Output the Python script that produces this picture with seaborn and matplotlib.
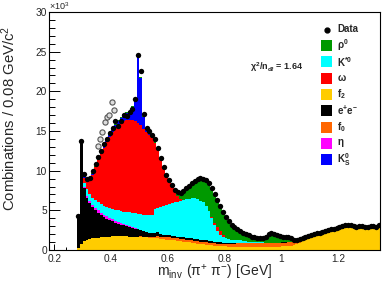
import numpy as np
import pandas as pd
import matplotlib
matplotlib.use("Agg")
import matplotlib.pyplot as plt
import seaborn as sns
from matplotlib.patches import Rectangle
from matplotlib.lines import Line2D
from matplotlib.ticker import MultipleLocator

# ---------------- data (y in units of 10^3 combinations) ----------------
bin_lo, bin_hi, bin_w = 0.28, 1.35, 0.01

f2 = [0.3, 0.8, 1.1, 1.25, 1.35, 1.45, 1.5, 1.55, 1.6, 1.65,
      1.7, 1.7, 1.75, 1.75, 1.75, 1.75, 1.75, 1.75, 1.7, 1.7,
      1.7, 1.65, 1.65, 1.6, 1.6, 1.55, 1.5, 1.5, 1.45, 1.4,
      1.35, 1.3, 1.3, 1.25, 1.2, 1.15, 1.1, 1.05, 1.0, 0.95,
      0.9, 0.85, 0.8, 0.75, 0.7, 0.65, 0.6, 0.6, 0.55, 0.5,
      0.5, 0.45, 0.45, 0.4, 0.4, 0.4, 0.4, 0.4, 0.4, 0.4,
      0.4, 0.4, 0.4, 0.4, 0.4, 0.4, 0.4, 0.4, 0.4, 0.4,
      0.4, 0.4, 0.45, 0.45, 0.5, 0.55, 0.6, 0.7, 0.9, 1.1,
      1.3, 1.5, 1.6, 1.7, 1.8, 1.9, 2.0, 2.1, 2.2, 2.3,
      2.4, 2.5, 2.6, 2.7, 2.8, 2.85, 2.85, 2.8, 2.75, 2.75,
      2.8, 2.8, 2.75, 2.75, 2.8, 2.8, 2.8]

f0 = ([0.0] * 22 + [0.1] * 5 + [0.2, 0.35] + [0.3] * 22 + [0.35] * 5 +
      [0.45] * 21 + [0.4, 0.3, 0.2, 0.1, 0.05] + [0.0] * 25)

ee = ([4.0, 12.8, 6.7, 5.35, 4.55, 3.95, 3.5, 3.15, 2.8, 2.5,
       2.25, 2.05, 1.85, 1.7, 1.55, 1.45, 1.35, 1.25, 1.2, 1.1,
       1.0, 0.95, 0.75, 0.7, 0.6, 0.55, 0.55, 0.5, 0.45, 0.35,
       0.3, 0.3, 0.25, 0.25, 0.25, 0.25, 0.25, 0.25, 0.25, 0.25,
       0.25, 0.25, 0.25, 0.25, 0.25, 0.25, 0.25, 0.2, 0.2, 0.2,
       0.15, 0.1, 0.1, 0.1, 0.1, 0.1] + [0.05] * 51)

eta = ([0.0, 0.05, 0.2, 0.25] + [0.3] * 7 +
       [0.28, 0.25, 0.22, 0.2, 0.17, 0.15, 0.12, 0.1, 0.08, 0.05, 0.03, 0.02] +
       [0.0] * 84)

kstar = ([0.0, 0.1, 0.5, 0.85, 0.9, 0.9, 1.0, 1.0, 1.1, 1.15,
          1.2, 1.27, 1.35, 1.43, 1.5, 1.53, 1.6, 1.68, 1.75, 1.82,
          1.9, 1.97, 1.98, 2.05, 2.1, 2.15, 2.25, 3.0, 3.05, 3.35,
          3.55, 3.75, 3.9, 4.1, 4.25, 4.4, 4.55, 4.7, 4.85, 4.95,
          5.05, 5.1, 5.05, 4.9, 4.75, 4.4, 3.75, 2.9, 2.05, 1.4,
          0.95, 0.7, 0.55, 0.5, 0.45, 0.4, 0.35, 0.3, 0.25, 0.2,
          0.15, 0.1, 0.1, 0.05, 0.05, 0.05] + [0.0] * 41)

omega = ([0.0, 0.0, 0.6, 0.9, 1.6, 2.9, 4.1, 5.3, 6.3, 7.3,
          8.15, 9.0, 9.7, 10.3, 10.8, 11.2, 11.45, 11.6, 11.65, 11.65,
          11.55, 11.4, 11.2, 10.85, 10.5, 10.15, 9.7, 8.3, 7.3, 6.0,
          4.7, 3.65, 2.75, 2.0, 1.3, 0.7, 0.2, 0.0, 0.0, 0.0] +
         [0.0] * 7 + [0.2, 0.3, 0.5, 0.5, 0.3, 0.1] + [0.0] * 54)

ks = ([0.0, 0.0, 0.05, 0.05, 0.05, 0.05, 0.1, 0.1, 0.1, 0.15,
       0.15, 0.2, 0.2, 0.3, 0.4, 0.5, 0.7, 0.9, 1.0, 1.6,
       2.8, 8.4, 6.0, 1.5, 0.3, 0.1] + [0.0] * 81)

rho = ([0.0, 0.0] + [0.15] * 23 + [0.2] * 7 +
       [0.25, 0.3, 0.3, 0.4, 0.6, 0.9,
        1.3, 1.65, 1.9, 2.2, 2.5, 2.8, 2.9, 3.1, 3.4, 3.5,
        3.6, 3.3, 3.0, 2.8, 2.45, 2.15, 1.8, 1.55, 1.25, 1.1,
        0.95, 0.85, 0.75, 0.65, 0.55, 0.55, 0.5, 0.5, 0.6, 0.9,
        1.0, 1.0, 0.9, 0.8, 0.7, 0.6, 0.5, 0.4, 0.2, 0.1,
        0.1, 0.1, 0.15, 0.15] + [0.15] * 25)

data = [4.3, 13.7, 9.6, 9.0, 9.1, 9.9, 10.9, 11.7, 12.5, 13.3,
        14.0, 14.8, 15.4, 16.3, 15.6, 16.3, 17.0, 16.9, 17.4, 17.8,
        19.0, 24.6, 22.6, 17.2, 15.4, 15.0, 14.5, 14.0, 12.9, 11.6,
        10.4, 9.5, 8.8, 8.2, 7.6, 7.3, 7.2, 7.4, 7.8, 8.1,
        8.4, 8.7, 9.0, 9.1, 9.0, 8.8, 8.4, 7.8, 7.1, 6.3,
        5.5, 4.8, 4.1, 3.6, 3.2, 2.9, 2.6, 2.4, 2.2, 2.0,
        1.9, 1.7, 1.6, 1.55, 1.5, 1.5, 1.6, 2.0, 2.1, 2.0,
        1.9, 1.8, 1.7, 1.6, 1.6, 1.5, 1.3, 1.2, 1.4, 1.5,
        1.6, 1.8, 1.9, 2.0, 2.1, 2.2, 2.3, 2.4, 2.5, 2.6,
        2.7, 2.8, 2.9, 3.0, 3.1, 3.2, 3.1, 3.0, 2.9, 3.0,
        3.0, 2.95, 2.9, 3.0, 3.0, 2.95, 3.1]

hollow_x = [0.353, 0.361, 0.369, 0.377, 0.386, 0.394, 0.402, 0.410]
hollow_y = [13.1, 14.0, 14.9, 16.1, 16.8, 17.0, 18.6, 17.7]

names = ["rho", "kstar", "omega", "f2", "ee", "f0", "eta", "ks"]
labels = [r"$\mathregular{\rho^{0}}$", r"$\mathregular{K^{*0}}$", r"$\mathregular{\omega}$",
          r"$\mathregular{f_{2}}$", r"$\mathregular{e^{+}e^{-}}$", r"$\mathregular{f_{0}}$",
          r"$\mathregular{\eta}$", r"$\mathregular{K^{0}_{S}}$"]
colors = {"rho": "#009900", "kstar": "#00FFFF", "omega": "#FF0000", "f2": "#FFCC00",
          "ee": "#000000", "f0": "#FF6600", "eta": "#FF00FF", "ks": "#0000FF"}
series = {"rho": rho, "kstar": kstar, "omega": omega, "f2": f2, "ee": ee,
          "f0": f0, "eta": eta, "ks": ks}

# stacking order, top to bottom
stack_top_to_bottom = ["rho", "ks", "omega", "kstar", "eta", "ee", "f0", "f2"]

edges = [round(bin_lo + i * bin_w, 3) for i in range(int(round((bin_hi - bin_lo) / bin_w)) + 1)]
centers = [round((a + b) / 2, 4) for a, b in zip(edges[:-1], edges[1:])]

df = pd.concat([pd.DataFrame({"x": centers, "w": series[n], "comp": n}) for n in names],
               ignore_index=True)

# ---------------- figure ----------------
sns.set_theme(style="white")
plt.rcParams["font.family"] = ["Liberation Sans", "DejaVu Sans"]
plt.rcParams["mathtext.default"] = "regular"

W, H = 382, 283
fig = plt.figure(figsize=(W / 100, H / 100), dpi=100)
L, R, T, B = 49, 380, 12, 250
ax = fig.add_axes([L / W, 1 - B / H, (R - L) / W, (B - T) / H])

sns.histplot(data=df, x="x", weights="w", hue="comp", hue_order=stack_top_to_bottom,
             multiple="stack", bins=edges, element="step", fill=True, alpha=1,
             linewidth=0, palette=colors, legend=False, ax=ax)

sns.scatterplot(x=centers, y=data, color="black", s=15, linewidth=0, ax=ax, zorder=5)
sns.scatterplot(x=hollow_x, y=hollow_y, marker="o", facecolor="#dddddd",
                edgecolor="#555555", s=14, linewidth=0.8, ax=ax, zorder=5)

ax.set_xlim(0.181, 1.348)
ax.set_ylim(0, 30)
ax.xaxis.set_major_locator(MultipleLocator(0.2))
ax.xaxis.set_minor_locator(MultipleLocator(0.04))
ax.yaxis.set_major_locator(MultipleLocator(5))
ax.yaxis.set_minor_locator(MultipleLocator(1))
ax.xaxis.set_major_formatter(matplotlib.ticker.FuncFormatter(lambda v, p: f"{v:g}"))
ax.tick_params(axis="both", which="both", direction="in", color="black",
               labelsize=7.3, width=0.7)
ax.tick_params(axis="y", which="major", length=8.0, pad=1.5)
ax.tick_params(axis="y", which="minor", length=4.3)
ax.tick_params(axis="x", which="major", length=4.0, pad=3)
ax.tick_params(axis="x", which="minor", length=2.2)
ax.tick_params(left=True, bottom=True, top=False, right=False)
ax.tick_params(axis="both", which="minor", left=True, bottom=True)
for s in ax.spines.values():
    s.set_color("black")
    s.set_linewidth(0.8)

ax.set_ylabel("Combinations / 0.08 GeV/c$^{2}$", fontsize=10.7, loc="top")
ax.yaxis.set_label_coords(-(L - 18) / (R - L), 1 - (26 - T) / (B - T))
ax.set_xlabel(r"$\mathregular{m_{inv}\ (\pi^{+}\ \pi^{-})\ [GeV]}$", fontsize=10, loc="right")
ax.xaxis.set_label_coords((272 - L) / (R - L), -(263 - B) / (B - T))

ax.text(0.0, 1.0, r"$\times10^{3}$", transform=ax.transAxes, fontsize=6.5,
        ha="left", va="bottom")

ax.text((250 - L) / (R - L), (B - 67) / (B - T), r"$\mathregular{\chi^{2}/n_{df}}$ = 1.64",
        transform=ax.transAxes, fontsize=6.5, fontweight="bold", ha="left", va="center")

# legend (manual ROOT-style)
def ax_xy(px, py):
    return (px - L) / (R - L), (B - py) / (B - T)

lx0, lx1 = 321, 332
ty = 337
dx, dy = ax_xy(327, 29.5)
ax.add_line(Line2D([dx], [dy], marker="o", color="black", markersize=3.5,
                   transform=ax.transAxes, clip_on=False))
tx, _ = ax_xy(ty, 0)
ax.text(tx, dy, "Data", transform=ax.transAxes, fontsize=7, fontweight="bold",
        ha="left", va="center")
for k, (n, lab) in enumerate(zip(names, labels)):
    yc = 45.5 + k * 16.3
    x0, y0 = ax_xy(lx0, yc + 5.5)
    x1, y1 = ax_xy(lx1, yc - 5.5)
    ax.add_patch(Rectangle((x0, y0), x1 - x0, y1 - y0, transform=ax.transAxes,
                           facecolor=colors[n], edgecolor="none", clip_on=False))
    _, yy = ax_xy(0, yc)
    ax.text(tx, yy, lab, transform=ax.transAxes, fontsize=7, fontweight="bold",
            ha="left", va="center")

fig.savefig("out.png", dpi=100)
